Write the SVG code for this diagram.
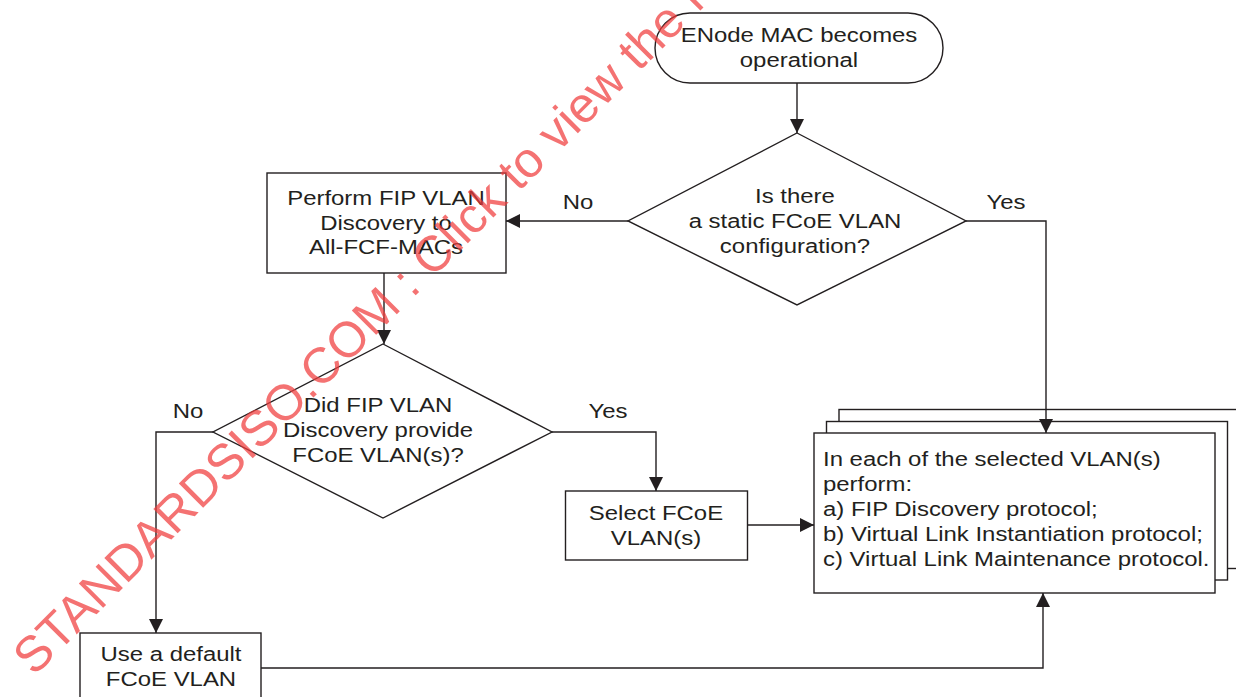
<svg xmlns="http://www.w3.org/2000/svg" width="1236" height="697" viewBox="0 0 1236 697">
<style>
.shape{fill:#fff;stroke:#231f20;stroke-width:1.4}
.wire{fill:none;stroke:#231f20;stroke-width:1.4}
.t{font-family:"Liberation Sans",Arial,sans-serif;font-size:21px;fill:#231f20}
.c{text-anchor:middle}
.wm{font-family:"Liberation Sans",Arial,sans-serif;font-size:50px;fill:#f03c3c;fill-opacity:0.72}
</style>
<defs>
<marker id="arr" markerUnits="userSpaceOnUse" markerWidth="14" markerHeight="14" refX="14" refY="7" orient="auto">
<path d="M0,0 L14,7 L0,14 z" fill="#231f20"/>
</marker>
</defs>
<rect width="1236" height="697" fill="#fff"/>
<g id="start">
<rect class="shape" x="655" y="13" width="288" height="70" rx="35" ry="35"/>
<text class="t c" transform="translate(799,42) scale(1.14,1)"><tspan x="0" y="0">ENode MAC becomes</tspan><tspan x="0" y="25">operational</tspan></text>
</g>
<g id="static-decision">
<polygon class="shape" points="797,133 966,221 797,305 628,221"/>
<text class="t c" transform="translate(795,203) scale(1.14,1)"><tspan x="0" y="0">Is there</tspan><tspan x="0" y="25">a static FCoE VLAN</tspan><tspan x="0" y="50">configuration?</tspan></text>
</g>
<g id="fip-discovery">
<rect class="shape" x="267" y="173" width="239" height="100"/>
<text class="t c" transform="translate(386,205) scale(1.14,1)"><tspan x="0" y="0">Perform FIP VLAN</tspan><tspan x="0" y="25">Discovery to</tspan><tspan x="0" y="49">All-FCF-MACs</tspan></text>
</g>
<g id="discovery-decision">
<polygon class="shape" points="383,344 552,432 383,518 213,432"/>
<text class="t c" transform="translate(378,412) scale(1.14,1)"><tspan x="0" y="0">Did FIP VLAN</tspan><tspan x="0" y="25">Discovery provide</tspan><tspan x="0" y="50">FCoE VLAN(s)?</tspan></text>
</g>
<g id="select-vlan">
<rect class="shape" x="565.5" y="491" width="182" height="69"/>
<text class="t c" transform="translate(656,520) scale(1.14,1)"><tspan x="0" y="0">Select FCoE</tspan><tspan x="0" y="25">VLAN(s)</tspan></text>
</g>
<g id="default-vlan">
<rect class="shape" x="80" y="633" width="181" height="90"/>
<text class="t c" transform="translate(171,661) scale(1.14,1)"><tspan x="0" y="0">Use a default</tspan><tspan x="0" y="25">FCoE VLAN</tspan></text>
</g>
<g id="per-vlan-protocols">
<rect class="shape" x="839" y="409.5" width="410" height="159"/>
<rect class="shape" x="826.5" y="421.5" width="401" height="158.5"/>
<rect class="shape" x="814" y="433" width="401" height="160"/>
<text class="t" transform="translate(823,466) scale(1.14,1)"><tspan x="0" y="0">In each of the selected VLAN(s)</tspan><tspan x="0" y="25">perform:</tspan><tspan x="0" y="50">a) FIP Discovery protocol;</tspan><tspan x="0" y="75">b) Virtual Link Instantiation protocol;</tspan><tspan x="0" y="100">c) Virtual Link Maintenance protocol.</tspan></text>
</g>
<g id="connectors">
<line class="wire" x1="797" y1="83" x2="797" y2="133" marker-end="url(#arr)"/>
<polyline class="wire" points="628,221 506,221" marker-end="url(#arr)"/>
<polyline class="wire" points="966,221 1046,221 1046,433" marker-end="url(#arr)"/>
<line class="wire" x1="384" y1="273" x2="384" y2="344" marker-end="url(#arr)"/>
<polyline class="wire" points="213,432 156,432 156,633" marker-end="url(#arr)"/>
<polyline class="wire" points="552,432 656,432 656,491" marker-end="url(#arr)"/>
<line class="wire" x1="747" y1="525" x2="814" y2="525" marker-end="url(#arr)"/>
<polyline class="wire" points="261,668 1043,668 1043,593" marker-end="url(#arr)"/>
<g id="labels">
<text class="t c" transform="translate(578,209) scale(1.14,1)">No</text>
<text class="t c" transform="translate(1006,209) scale(1.14,1)">Yes</text>
<text class="t c" transform="translate(188,418) scale(1.14,1)">No</text>
<text class="t c" transform="translate(608,418) scale(1.14,1)">Yes</text>
</g>
</g>
<text class="wm" transform="translate(34,677) rotate(-45)">STANDARDSISO.COM : Click to view the full</text>
</svg>
